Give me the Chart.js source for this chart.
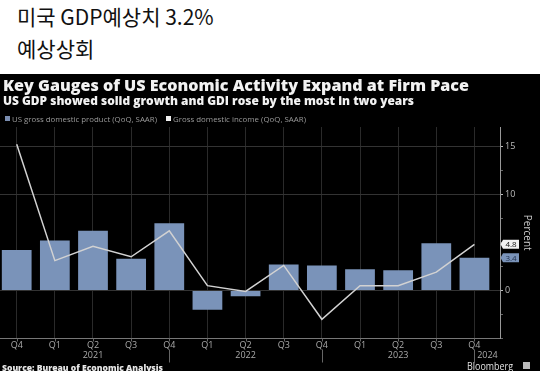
<!DOCTYPE html>
<html><head><meta charset="utf-8">
<script src="https://cdn.jsdelivr.net/npm/chart.js@4.4.1/dist/chart.umd.min.js"></script>
<style>
html,body{margin:0;padding:0;width:540px;height:371px;overflow:hidden;background:#fff;}
.kr{position:absolute;left:17px;font-family:"Noto Sans CJK KR";font-size:21px;line-height:21px;color:#111;white-space:nowrap;}
#dark{position:absolute;left:0;top:74px;width:540px;height:297px;background:#000;}
#wrap{position:absolute;left:0;top:74px;width:540px;height:297px;}
.t{position:absolute;white-space:nowrap;transform-origin:0 50%;font-family:"Open Sans";}
.sq{display:inline-block;width:5px;height:5px;margin-right:2px;vertical-align:1px;}
</style></head><body>
<div class="kr" style="top:6px">미국 GDP예상치 3.2%</div>
<div class="kr" style="top:38px">예상상회</div>
<div id="dark"></div>
<div id="wrap"><canvas id="c"></canvas></div>
<div class="t fit" data-w="466" style="left:3px;top:77px;font-size:16px;line-height:16px;font-weight:800;color:#f2f2f2">Key Gauges of US Economic Activity Expand at Firm Pace</div>
<div class="t fit" data-w="411" style="left:3px;top:95px;font-size:11.5px;line-height:12px;font-weight:800;color:#f2f2f2">US GDP showed solid growth and GDI rose by the most in two years</div>
<div class="t" style="left:5px;top:114px;font-size:8px;line-height:9px;color:#9a9a9a"><span class="sq" style="background:#7a8db0"></span><span class="fit" data-w="145" style="display:inline-block;transform-origin:0 50%">US gross domestic product (QoQ, SAAR)</span></div>
<div class="t" style="left:166px;top:114px;font-size:8px;line-height:9px;color:#9a9a9a"><span class="sq" style="background:#f0f0f0"></span><span class="fit" data-w="133" style="display:inline-block;transform-origin:0 50%">Gross domestic income (QoQ, SAAR)</span></div>
<div class="t fit" data-w="161" style="left:2px;top:363px;font-size:8px;line-height:9px;font-weight:800;color:#e8e8e8">Source: Bureau of Economic Analysis</div>
<div class="t fit" data-w="46" style="left:467px;top:360px;font-size:10.5px;line-height:12px;color:#e0e0e0">Bloomberg</div>
<div style="position:absolute;left:523px;top:362px;width:7px;height:7px;background:#bbb;"></div>
<script>
const quarterLabels = ['Q4','Q1','Q2','Q3','Q4','Q1','Q2','Q3','Q4','Q1','Q2','Q3','Q4'];
const yearLabels = ['2021','2022','2023','2024'];
const yearLabelAt = [2,6,10,12];
const yearTickAt = [4,8,12];
const gdpValues = [4.2,5.2,6.2,3.3,7.0,-2.0,-0.6,2.7,2.6,2.2,2.1,4.9,3.4];
const gdiValues = [15.2,3.1,4.6,3.5,6.2,0.5,-0.1,2.6,-3.0,0.5,0.5,1.9,4.8];
const yTickValues = [-5,-2.5,0,2.5,5,7.5,10,12.5,15];
const yLabelled = [0,10,15];
const yGridAt = [0,10,15];

const BAR = '#7a93b9';
const LINE = '#d2d2d2';

const extras = {
  id:'extras',
  afterDraw(chart){
    const {ctx, scales:{x,y}, chartArea:ca} = chart;
    ctx.save();
    ctx.lineWidth = 1;
    ctx.strokeStyle = '#666';
    quarterLabels.forEach((_,i)=>{
      const px = Math.round(x.getPixelForValue(i))+0.5;
      ctx.beginPath(); ctx.moveTo(px, ca.bottom); ctx.lineTo(px, ca.bottom+3); ctx.stroke();
    });
    yearTickAt.forEach(i=>{
      const px = Math.round(x.getPixelForValue(i))+0.5;
      ctx.beginPath(); ctx.moveTo(px, ca.bottom+11); ctx.lineTo(px, ca.bottom+24); ctx.stroke();
    });
    ctx.fillStyle = '#aaa';
    ctx.font = '9px "Open Sans"';
    ctx.textAlign = 'center';
    ctx.textBaseline = 'middle';
    yearLabels.forEach((t,k)=>{
      let px = x.getPixelForValue(yearLabelAt[k]);
      if (k === yearLabels.length-1) px += 13;
      ctx.fillText(t, px, ca.bottom+17);
    });
    const boxes = [
      {v: gdiValues[gdiValues.length-1], bg:'#f0f0f0', fg:'#111'},
      {v: gdpValues[gdpValues.length-1], bg:BAR, fg:'#1c2c48'}
    ];
    ctx.font = '8px "Open Sans"';
    boxes.forEach(b=>{
      const py = y.getPixelForValue(b.v);
      const x0 = ca.right+3, w = 16, h = 9;
      ctx.fillStyle = b.bg;
      ctx.beginPath();
      ctx.moveTo(ca.right+0.5, py);
      ctx.lineTo(x0, py-h/2);
      ctx.lineTo(x0+w, py-h/2);
      ctx.lineTo(x0+w, py+h/2);
      ctx.lineTo(x0, py+h/2);
      ctx.closePath();
      ctx.fill();
      ctx.fillStyle = b.fg;
      ctx.fillText(b.v.toFixed(1), x0+w/2, py+0.5);
    });
    ctx.restore();
  }
};

new Chart(document.getElementById('c'), {
  type:'bar',
  data:{
    datasets:[
      {type:'line', label:'Gross domestic income (QoQ, SAAR)',
       data: gdiValues.map((v,i)=>({x:i,y:v})),
       borderColor:LINE, borderWidth:1.5, pointRadius:0, tension:0, order:0},
      {type:'bar', label:'US gross domestic product (QoQ, SAAR)',
       data: gdpValues.map((v,i)=>({x:i,y:v})),
       backgroundColor:BAR, barPercentage:0.78, categoryPercentage:1, order:1}
    ]
  },
  options:{
    responsive:true, maintainAspectRatio:false, animation:false,
    devicePixelRatio:1,
    layout:{padding:{top:53,left:0,right:0,bottom:0}},
    plugins:{legend:{display:false}, tooltip:{enabled:false}},
    scales:{
      x:{type:'linear', offset:false, min:-0.438, max:12.67,
         afterBuildTicks:s=>{s.ticks = quarterLabels.map((_,i)=>({value:i}));},
         afterFit:s=>{s.height = 32.5;},
         grid:{offset:false, color:'#2a2a2a', drawTicks:false},
         border:{display:true, color:'#777'},
         ticks:{color:'#aaa', font:{size:9, family:'"Open Sans"'}, padding:2, maxRotation:0, autoSkip:false,
                callback:v=>quarterLabels[v]}
      },
      y:{position:'right', min:-5, max:17,
         afterBuildTicks:s=>{s.ticks = yTickValues.map(v=>({value:v}));},
         afterFit:s=>{s.width = 40;},
         grid:{color:c=>yGridAt.includes(c.tick.value)?'#333':'rgba(0,0,0,0)',
               tickColor:c=>yLabelled.includes(c.tick.value)?'#bbb':'#666', tickLength:3},
         border:{display:true, color:'#999'},
         ticks:{color:'#bbb', font:{size:9, family:'"Open Sans"'}, padding:2,
                callback:v=>yLabelled.includes(v)?String(v):''},
         title:{display:true, text:'Percent', color:'#ccc', font:{size:10, family:'"Open Sans"'}, padding:{top:7,bottom:0}}
      }
    }
  },
  plugins:[extras]
});

function fit(){
  document.querySelectorAll('.fit').forEach(el=>{
    el.style.transform='none';
    const w = el.getBoundingClientRect().width;
    const target = +el.dataset.w;
    if (w>0) el.style.transform = 'scaleX('+(target/w)+')';
  });
}
fit();
if (document.fonts && document.fonts.ready) document.fonts.ready.then(fit);
</script>
</body></html>
